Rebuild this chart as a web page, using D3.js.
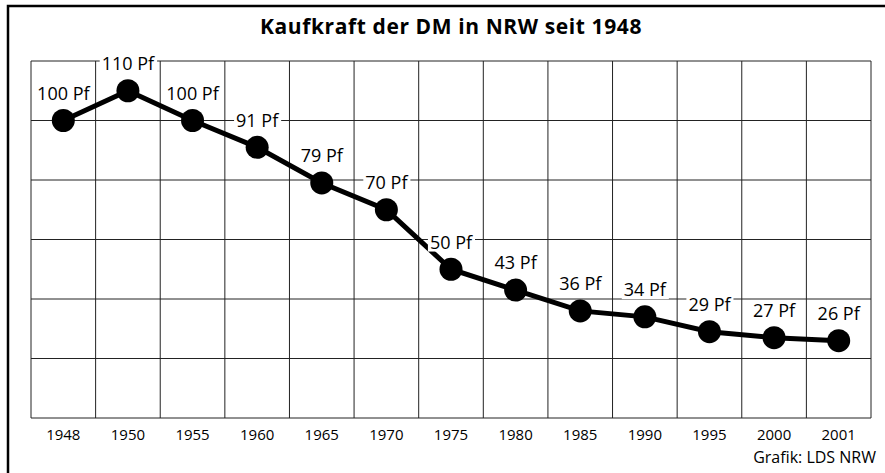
<!DOCTYPE html>
<html>
<head>
<meta charset="utf-8">
<script src="https://cdn.jsdelivr.net/npm/d3@7"></script>
<style>
body { margin: 0; background: #fff; }
svg { display: block; font-family: "Open Sans", "Noto Sans", sans-serif; }
</style>
</head>
<body>
<svg id="chart"></svg>
<script>
// Kaufkraft der DM (in Pfennig) je Stichjahr
var years = ["1948", "1950", "1955", "1960", "1965", "1970", "1975", "1980", "1985", "1990", "1995", "2000", "2001"];
var values = [100, 110, 100, 91, 79, 70, 50, 43, 36, 34, 29, 27, 26];
var yTicks = [0, 20, 40, 60, 80, 100, 120];

var width = 885, height = 473;
var margin = {top: 61, right: 14, bottom: 55, left: 31};

var svg = d3.select("#chart")
    .attr("width", width)
    .attr("height", height);

// frame (only top and left edges inside the picture)
svg.append("rect")
    .attr("x", 8)
    .attr("y", 6)
    .attr("width", width + 20)
    .attr("height", height + 20)
    .attr("fill", "none")
    .attr("stroke", "#000")
    .attr("stroke-width", 2.5);

svg.append("text")
    .attr("x", 451)
    .attr("y", 34)
    .attr("text-anchor", "middle")
    .style("font-size", "21px")
    .style("letter-spacing", "0.6px")
    .style("font-weight", "bold")
    .text("Kaufkraft der DM in NRW seit 1948");

var xScale = d3.scaleBand()
    .domain(years)
    .range([margin.left, width - margin.right])
    .padding(0);

var yScale = d3.scaleLinear()
    .domain([0, 120])
    .range([height - margin.bottom, margin.top]);

var data = years.map(function(y, i) { return {year: y, value: values[i]}; });

// grid
var grid = svg.append("g").attr("stroke", "#222").attr("stroke-width", 1);

grid.selectAll("line.h")
    .data(yTicks)
    .enter()
    .append("line")
    .attr("x1", xScale.range()[0])
    .attr("x2", xScale.range()[1])
    .attr("y1", function(d) { return yScale(d); })
    .attr("y2", function(d) { return yScale(d); });

var bounds = years.map(function(y) { return xScale(y); }).concat([xScale.range()[1]]);
grid.selectAll("line.v")
    .data(bounds)
    .enter()
    .append("line")
    .attr("x1", function(d) { return d; })
    .attr("x2", function(d) { return d; })
    .attr("y1", yScale(120))
    .attr("y2", yScale(0));

// year labels
svg.append("g")
    .selectAll("text")
    .data(years)
    .enter()
    .append("text")
    .attr("x", function(d) { return xScale(d) + xScale.bandwidth() / 2; })
    .attr("y", 440)
    .attr("text-anchor", "middle")
    .style("font-size", "15px")
    .text(function(d) { return d; });

svg.append("text")
    .attr("x", 876)
    .attr("y", 463)
    .attr("text-anchor", "end")
    .style("font-size", "16px")
    .text("Grafik: LDS NRW");

var cx = function(d) { return xScale(d.year) + xScale.bandwidth() / 2; };
var cy = function(d) { return yScale(d.value); };

var line = d3.line().x(cx).y(cy);

svg.append("path")
    .datum(data)
    .attr("d", line)
    .attr("fill", "none")
    .attr("stroke", "#000")
    .attr("stroke-width", 5);

// value labels with white boxes over the grid
var lab = svg.append("g")
    .selectAll("g")
    .data(data)
    .enter()
    .append("g")
    .attr("transform", function(d) { return "translate(" + cx(d) + "," + (cy(d) - 27) + ")"; });

lab.append("rect").attr("fill", "#fff");

lab.append("text")
    .attr("text-anchor", "middle")
    .attr("dy", "0.35em")
    .style("font-size", "18px")
    .text(function(d) { return d.value + " Pf"; });

lab.each(function() {
    var g = d3.select(this);
    var b = g.select("text").node().getBBox();
    g.select("rect")
        .attr("x", b.x - 2)
        .attr("y", b.y + 2)
        .attr("width", b.width + 4)
        .attr("height", b.height - 4);
});

svg.append("g")
    .selectAll("circle")
    .data(data)
    .enter()
    .append("circle")
    .attr("cx", cx)
    .attr("cy", cy)
    .attr("r", 11.5)
    .attr("fill", "#000");
</script>
</body>
</html>
